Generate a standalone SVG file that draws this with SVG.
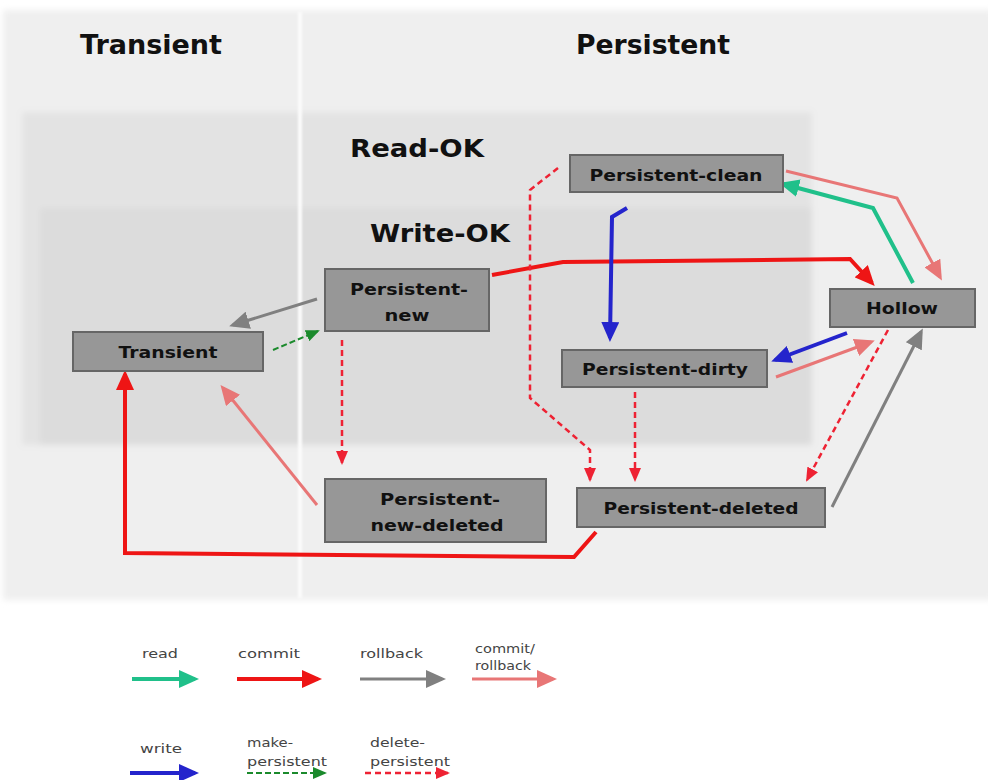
<svg xmlns="http://www.w3.org/2000/svg" width="988" height="780" viewBox="0 0 988 780">
  <style>
    .hdr { font-family: "DejaVu Sans", Verdana, sans-serif; font-weight: bold; fill: #111; }
    .node rect { fill: #979797; stroke: #666; stroke-width: 2; }
    .node text { font-family: "DejaVu Sans", Verdana, sans-serif; font-weight: bold; font-size: 16px; fill: #111; text-anchor: middle; }
    .leg { font-family: "DejaVu Sans", Verdana, sans-serif; font-size: 13px; fill: #444; }
    .c { fill: none; stroke-linejoin: miter; }
    .read { stroke: #20c08a; stroke-width: 4; marker-end: url(#mRead); }
    .commit { stroke: #ee1515; stroke-width: 4; marker-end: url(#mCommit); }
    .rollback { stroke: #808080; stroke-width: 3; marker-end: url(#mRollback); }
    .cr { stroke: #e87676; stroke-width: 3; marker-end: url(#mCr); }
    .write { stroke: #2424cc; stroke-width: 4; marker-end: url(#mWrite); }
    .make { stroke: #1b8a2c; stroke-width: 2; stroke-dasharray: 6 3; marker-end: url(#mMake); }
    .del { stroke: #ee2233; stroke-width: 2.5; stroke-dasharray: 6 4; marker-end: url(#mDel); }
  </style>
  <defs>
    <filter id="soft" x="-5%" y="-5%" width="110%" height="110%">
      <feGaussianBlur stdDeviation="3"/>
    </filter>
    <filter id="softLine" x="-50%" y="-5%" width="200%" height="110%">
      <feGaussianBlur stdDeviation="1"/>
    </filter>
    <marker id="mRead" markerUnits="userSpaceOnUse" markerWidth="20" markerHeight="18" refX="16" refY="9" orient="auto"><path d="M0,0 L20,9 L0,18 z" fill="#20c08a"/></marker>
    <marker id="mCommit" markerUnits="userSpaceOnUse" markerWidth="20" markerHeight="18" refX="16" refY="9" orient="auto"><path d="M0,0 L20,9 L0,18 z" fill="#ee1515"/></marker>
    <marker id="mRollback" markerUnits="userSpaceOnUse" markerWidth="20" markerHeight="18" refX="16" refY="9" orient="auto"><path d="M0,0 L20,9 L0,18 z" fill="#808080"/></marker>
    <marker id="mCr" markerUnits="userSpaceOnUse" markerWidth="20" markerHeight="18" refX="16" refY="9" orient="auto"><path d="M0,0 L20,9 L0,18 z" fill="#e87676"/></marker>
    <marker id="mWrite" markerUnits="userSpaceOnUse" markerWidth="20" markerHeight="18" refX="16" refY="9" orient="auto"><path d="M0,0 L20,9 L0,18 z" fill="#2424cc"/></marker>
    <marker id="mMake" markerUnits="userSpaceOnUse" markerWidth="14" markerHeight="12" refX="12" refY="6" orient="auto"><path d="M0,0 L14,6 L0,12 z" fill="#1b8a2c"/></marker>
    <marker id="mDel" markerUnits="userSpaceOnUse" markerWidth="14" markerHeight="12" refX="12" refY="6" orient="auto"><path d="M0,0 L14,6 L0,12 z" fill="#ee2233"/></marker>
  </defs>

  <!-- background areas -->
  <rect x="0" y="0" width="988" height="780" fill="#ffffff"/>
  <g id="areas" filter="url(#soft)">
    <rect x="3" y="10" width="990" height="590" fill="#efefef"/>
    <rect x="22" y="112" width="790" height="333" fill="#e3e3e3"/>
    <rect x="40" y="208" width="772" height="237" fill="#dcdcdc"/>
  </g>
  <rect x="298" y="12" width="4" height="586" fill="#fbfbfb" filter="url(#softLine)"/>

  <!-- area headings -->
  <g id="headings">
    <text class="hdr" x="80" y="54" font-size="26" textLength="142" lengthAdjust="spacingAndGlyphs">Transient</text>
    <text class="hdr" x="576" y="54" font-size="26" textLength="154" lengthAdjust="spacingAndGlyphs">Persistent</text>
    <text class="hdr" x="350" y="157" font-size="24" textLength="134" lengthAdjust="spacingAndGlyphs">Read-OK</text>
    <text class="hdr" x="370" y="242" font-size="24" textLength="140" lengthAdjust="spacingAndGlyphs">Write-OK</text>
  </g>

  <!-- transitions -->
  <g id="connectors">
    <path class="c rollback" d="M317,299 L233,325"/>
    <path class="c make" d="M273,350 L318,331"/>
    <path class="c del" d="M342,340 L342,463"/>
    <path class="c cr" d="M317,505 L223,388"/>
    <path class="c commit" d="M596,532 L574,557 L125,553 L125,374"/>
    <path class="c commit" d="M492,275 L563,262 L850,259 L872,283"/>
    <path class="c cr" d="M786,171 L897,198 L940,277"/>
    <path class="c read" d="M913,283 L873,208 L783,184"/>
    <path class="c write" d="M627,208 L612,217 L610,338"/>
    <path class="c write" d="M847,333 L775,360"/>
    <path class="c cr" d="M776,377 L871,342"/>
    <path class="c del" d="M888,330 L807,480"/>
    <path class="c rollback" d="M832,507 L921,332"/>
    <path class="c del" d="M558,168 L530,190 L530,398 L590,450 L590,480"/>
    <path class="c del" d="M635,392 L635,480"/>
  </g>

  <!-- states -->
  <g id="transient" class="node">
    <rect x="73" y="332" width="190" height="39"/>
    <text x="168" y="358" textLength="99" lengthAdjust="spacingAndGlyphs">Transient</text>
  </g>
  <g id="persistent-new" class="node">
    <rect x="325" y="269" width="164" height="62"/>
    <text x="409" y="295" textLength="118" lengthAdjust="spacingAndGlyphs">Persistent-</text>
    <text x="407" y="321" textLength="45" lengthAdjust="spacingAndGlyphs">new</text>
  </g>
  <g id="persistent-clean" class="node">
    <rect x="570" y="155" width="213" height="37"/>
    <text x="676" y="181" textLength="173" lengthAdjust="spacingAndGlyphs">Persistent-clean</text>
  </g>
  <g id="persistent-dirty" class="node">
    <rect x="562" y="350" width="205" height="37"/>
    <text x="665" y="375" textLength="166" lengthAdjust="spacingAndGlyphs">Persistent-dirty</text>
  </g>
  <g id="hollow" class="node">
    <rect x="830" y="289" width="145" height="38"/>
    <text x="902" y="314" textLength="72" lengthAdjust="spacingAndGlyphs">Hollow</text>
  </g>
  <g id="persistent-new-deleted" class="node">
    <rect x="325" y="479" width="221" height="63"/>
    <text x="440" y="505" textLength="120" lengthAdjust="spacingAndGlyphs">Persistent-</text>
    <text x="437" y="531" textLength="133" lengthAdjust="spacingAndGlyphs">new-deleted</text>
  </g>
  <g id="persistent-deleted" class="node">
    <rect x="577" y="488" width="248" height="39"/>
    <text x="701" y="514" textLength="195" lengthAdjust="spacingAndGlyphs">Persistent-deleted</text>
  </g>

  <!-- legend -->
  <g id="legend">
    <text class="leg" x="142" y="658" textLength="36" lengthAdjust="spacingAndGlyphs">read</text>
    <path class="c read" d="M132,679 L195,679"/>
    <text class="leg" x="238" y="658" textLength="62" lengthAdjust="spacingAndGlyphs">commit</text>
    <path class="c commit" d="M237,679 L318,679"/>
    <text class="leg" x="360" y="658" textLength="63" lengthAdjust="spacingAndGlyphs">rollback</text>
    <path class="c rollback" d="M360,679 L442,679"/>
    <text class="leg" x="475" y="653" textLength="60" lengthAdjust="spacingAndGlyphs">commit/</text>
    <text class="leg" x="475" y="670" textLength="56" lengthAdjust="spacingAndGlyphs">rollback</text>
    <path class="c cr" d="M472,679 L553,679"/>
    <text class="leg" x="140" y="753" textLength="42" lengthAdjust="spacingAndGlyphs">write</text>
    <path class="c write" d="M130,773 L195,773"/>
    <text class="leg" x="247" y="747" textLength="46" lengthAdjust="spacingAndGlyphs">make-</text>
    <text class="leg" x="247" y="766" textLength="80" lengthAdjust="spacingAndGlyphs">persistent</text>
    <path class="c make" d="M247,773 L325,773"/>
    <text class="leg" x="370" y="747" textLength="55" lengthAdjust="spacingAndGlyphs">delete-</text>
    <text class="leg" x="370" y="766" textLength="80" lengthAdjust="spacingAndGlyphs">persistent</text>
    <path class="c del" d="M365,773 L448,773"/>
  </g>
</svg>
